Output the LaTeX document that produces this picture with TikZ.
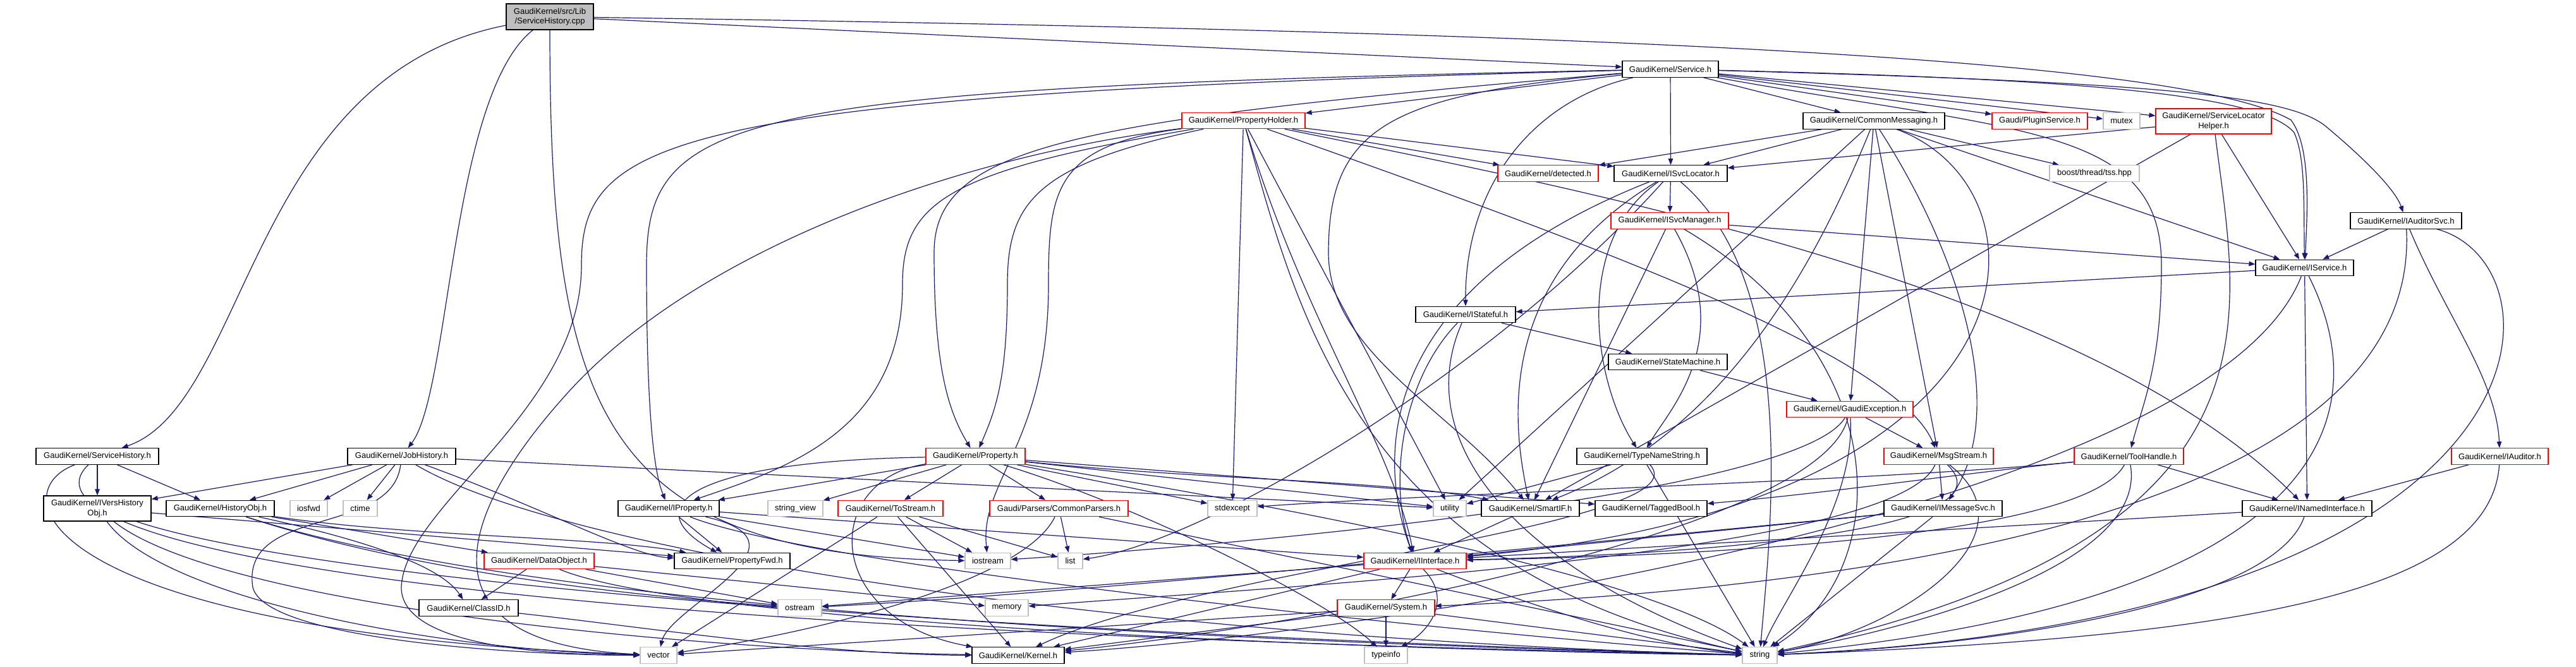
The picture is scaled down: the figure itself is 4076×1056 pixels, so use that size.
\documentclass[tikz,border=0pt]{standalone}
\usepackage{xcolor}
\usepackage{fontspec}
\setmainfont{Liberation Sans}
\usepackage{tikz}
\usetikzlibrary{arrows.meta}
\definecolor{edgeblue}{RGB}{25, 25, 112}
\definecolor{truncred}{RGB}{255, 0, 0}
\definecolor{sysgray}{RGB}{191, 191, 191}
\pgfdeclarelayer{edges}
\pgfsetlayers{edges,main}

\begin{document}
\begin{tikzpicture}[x=1pt, y=1pt,
    file/.style={draw=black, line width=1.2pt, fill=white, inner xsep=4pt, inner ysep=0pt,
      minimum height=25.5pt, align=center, font=\fontsize{13}{15.5}\selectfont},
    hdr/.style={file},
    trunc/.style={file, draw=truncred},
    sys/.style={file, draw=sysgray},
    rootfile/.style={file, fill=sysgray},
    dep/.style={draw=edgeblue, line width=1.2pt, -{Triangle[length=10pt, width=7.5pt]}}]

        % 文件 (Files)
        \node[rootfile, minimum width=138, minimum height=41] (root) at (870,-26.5) {GaudiKernel/src/Lib\\/ServiceHistory.cpp};
        \node[hdr, minimum width=152] (svc) at (2643,-109.5) {GaudiKernel/Service.h};
        \node[trunc, minimum width=195] (phold) at (1967.5,-191) {GaudiKernel/PropertyHolder.h};
        \node[hdr, minimum width=224] (cmsg) at (2965,-191.5) {GaudiKernel/CommonMessaging.h};
        \node[trunc, minimum width=151] (plug) at (3227.5,-191.5) {Gaudi/PluginService.h};
        \node[sys, minimum width=58] (mutex) at (3357,-191.5) {mutex};
        \node[trunc, minimum width=183, minimum height=40] (slh) at (3502.5,-192) {GaudiKernel/ServiceLocator\\Helper.h};
        \node[trunc, minimum width=159] (detected) at (2449.5,-274.5) {GaudiKernel/detected.h};
        \node[hdr, minimum width=179] (isl) at (2643.5,-274.5) {GaudiKernel/ISvcLocator.h};
        \node[sys, minimum width=142] (tss) at (3314,-274.5) {boost/thread/tss.hpp};
        \node[trunc, minimum width=186] (ism) at (2642,-349.5) {GaudiKernel/ISvcManager.h};
        \node[hdr, minimum width=176] (iaudsvc) at (3807,-349.5) {GaudiKernel/IAuditorSvc.h};
        \node[hdr, minimum width=155] (isvc) at (3646.5,-424) {GaudiKernel/IService.h};
        \node[hdr, minimum width=158] (istate) at (2319,-498) {GaudiKernel/IStateful.h};
        \node[hdr, minimum width=188] (sm) at (2639,-573) {GaudiKernel/StateMachine.h};
        \node[trunc, minimum width=200] (gexc) at (2927,-648) {GaudiKernel/GaudiException.h};
        \node[hdr, minimum width=194] (shist) at (154,-722.5) {GaudiKernel/ServiceHistory.h};
        \node[hdr, minimum width=171] (jhist) at (635.5,-722.5) {GaudiKernel/JobHistory.h};
        \node[trunc, minimum width=157] (prop) at (1543.5,-722.5) {GaudiKernel/Property.h};
        \node[hdr, minimum width=206] (tns) at (2598,-722.5) {GaudiKernel/TypeNameString.h};
        \node[trunc, minimum width=173] (msgs) at (3067.5,-722.5) {GaudiKernel/MsgStream.h};
        \node[trunc, minimum width=173] (toolh) at (3368.5,-722.5) {GaudiKernel/ToolHandle.h};
        \node[trunc, minimum width=153] (iaud) at (3955.5,-722.5) {GaudiKernel/IAuditor.h};
        \node[hdr, minimum width=170, minimum height=40] (ivho) at (154,-805) {GaudiKernel/IVersHistory\\Obj.h};
        \node[hdr, minimum width=171] (hobj) at (348.5,-805) {GaudiKernel/HistoryObj.h};
        \node[sys, minimum width=59] (iosfwd) at (488.5,-805) {iosfwd};
        \node[sys, minimum width=54] (ctime) at (570,-805) {ctime};
        \node[hdr, minimum width=160] (iprop) at (1058,-805) {GaudiKernel/IProperty.h};
        \node[sys, minimum width=87] (sview) at (1258.5,-805) {string\_view};
        \node[trunc, minimum width=166] (tostr) at (1409,-805) {GaudiKernel/ToStream.h};
        \node[trunc, minimum width=219] (cparse) at (1675.5,-805) {Gaudi/Parsers/CommonParsers.h};
        \node[sys, minimum width=78] (stdexc) at (1950,-805) {stdexcept};
        \node[sys, minimum width=52] (utility) at (2294,-805) {utility};
        \node[hdr, minimum width=155] (smartif) at (2421.5,-805) {GaudiKernel/SmartIF.h};
        \node[hdr, minimum width=177] (tbool) at (2612.5,-805) {GaudiKernel/TaggedBool.h};
        \node[hdr, minimum width=187] (imsg) at (3074.5,-805) {GaudiKernel/IMessageSvc.h};
        \node[hdr, minimum width=205] (inamed) at (3650.5,-805) {GaudiKernel/INamedInterface.h};
        \node[trunc, minimum width=174] (dobj) at (853,-888) {GaudiKernel/DataObject.h};
        \node[hdr, minimum width=183] (pfwd) at (1158.5,-888) {GaudiKernel/PropertyFwd.h};
        \node[sys, minimum width=72] (iostream) at (1563,-888) {iostream};
        \node[sys, minimum width=39] (list) at (1693.5,-888) {list};
        \node[trunc, minimum width=162] (iif) at (2239,-888) {GaudiKernel/IInterface.h};
        \node[hdr, minimum width=157] (clid) at (741.5,-962.5) {GaudiKernel/ClassID.h};
        \node[sys, minimum width=69] (ostream) at (1265.5,-962.5) {ostream};
        \node[sys, minimum width=68] (memory) at (1593,-962.5) {memory};
        \node[trunc, minimum width=154] (system) at (2193,-962.5) {GaudiKernel/System.h};
        \node[sys, minimum width=58] (vector) at (1042,-1037.5) {vector};
        \node[hdr, minimum width=146] (kernel) at (1611,-1037.5) {GaudiKernel/Kernel.h};
        \node[sys, minimum width=68] (typeinfo) at (2193,-1037.5) {typeinfo};
        \node[sys, minimum width=55] (string) at (2784.5,-1037.5) {string};

        \begin{pgfonlayer}{edges}
        \path[fill=white, use as bounding box] (0,0) rectangle (4076,-1056);

        % 直线依赖 (Straight includes)
        \foreach \a/\b in {root/svc, svc/phold, svc/cmsg, svc/plug, svc/mutex, svc/slh, svc/isl,
            phold/detected, phold/isl, phold/stdexc, phold/utility,
            cmsg/detected, cmsg/isl, cmsg/tss, cmsg/isvc, cmsg/gexc, cmsg/msgs, cmsg/utility,
            slh/isl, slh/smartif, slh/isvc, isl/ism, ism/isvc, ism/smartif, iaudsvc/isvc,
            isvc/istate, isvc/inamed, istate/sm, sm/gexc, gexc/msgs,
            shist/ivho, shist/hobj, jhist/ivho, jhist/hobj, jhist/iosfwd, jhist/ctime, jhist/utility,
            ivho/pfwd, hobj/dobj, dobj/clid, dobj/ostream, dobj/memory,
            prop/iprop, prop/sview, prop/tostr, prop/cparse, prop/stdexc, prop/utility, prop/tbool,
            iprop/pfwd, iprop/iostream, iprop/iif, tostr/vector, tostr/kernel, tostr/iostream, tostr/list,
            cparse/list, cparse/string, smartif/iif, tns/utility, tns/string, msgs/imsg,
            toolh/inamed, iaud/inamed, imsg/iif, imsg/string, inamed/iif,
            iif/system, iif/ostream, iif/kernel, system/typeinfo, system/kernel, system/vector, system/string}
            \draw[dep] (\a) -- (\b);

        % ServiceHistory.cpp
        \draw[dep] (root) .. controls (393,-120) and (393,-640) .. (shist);
        \draw[dep] (root) .. controls (713,-150) and (713,-620) .. (jhist);
        \draw[dep] (root) .. controls (870,-650) and (950,-880) .. (iostream);
        \draw[dep] (root) .. controls (2500,-50) and (3450,-90) .. (3625,-190) .. controls (3655,-230) and (3652,-320) .. (isvc);

        % Service.h
        \draw[dep] (svc) .. controls (2420,-160) and (2318,-300) .. (istate);
        \draw[dep] (svc) .. controls (3400,-130) and (3620,-150) .. (3680,-200) .. controls (3740,-250) and (3790,-300) .. (iaudsvc);
        \draw[dep] (svc) .. controls (3300,-125) and (3580,-150) .. (3630,-210) .. controls (3648,-250) and (3645,-320) .. (isvc);
        \draw[dep] (svc) .. controls (3200,-210) and (3420,-200) .. (3420,-420) .. controls (3420,-580) and (3390,-640) .. (toolh);
        \draw[dep] (svc) .. controls (1150,-140) and (1023,-180) .. (1023,-420) .. controls (1023,-700) and (1040,-760) .. (iprop);
        \draw[dep] (svc) .. controls (1700,-190) and (1478,-230) .. (1478,-400) .. controls (1478,-580) and (1500,-650) .. (prop);
        \draw[dep] (svc) .. controls (2200,-150) and (2102,-200) .. (2102,-400) .. controls (2102,-560) and (2300,-650) .. (smartif);
        \draw[dep] (svc) .. controls (1050,-150) and (920,-220) .. (920,-420) .. controls (920,-650) and (640,-800) .. (635,-930) .. controls (635,-1020) and (850,-1037) .. (vector);

        % PropertyHolder.h
        \draw[dep] (phold) .. controls (1640,-260) and (1594,-320) .. (1594,-450) .. controls (1594,-600) and (1575,-650) .. (prop);
        \draw[dep] (phold) .. controls (1500,-270) and (1428,-320) .. (1428,-450) .. controls (1428,-680) and (1250,-740) .. (iprop);
        \draw[dep] (phold) .. controls (1500,-250) and (1100,-400) .. (900,-620) .. controls (700,-840) and (680,-1020) .. (vector);
        \draw[dep] (phold) .. controls (1670,-230) and (1659,-300) .. (1659,-450) .. controls (1659,-700) and (1550,-760) .. (iostream);
        \draw[dep] (phold) .. controls (2500,-380) and (3000,-560) .. (msgs);
        \draw[dep] (phold) .. controls (2053,-500) and (2150,-900) .. (string);
        \draw[dep] (phold) .. controls (2500,-300) and (3300,-450) .. (inamed);
        \draw[dep] (phold) .. controls (2060,-500) and (2200,-700) .. (iif);

        % CommonMessaging.h, ServiceLocatorHelper.h
        \draw[dep] (cmsg) .. controls (3100,-400) and (3180,-650) .. (imsg);
        \draw[dep] (cmsg) .. controls (2880,-400) and (2740,-680) .. (smartif);
        \draw[dep] (cmsg) .. controls (3260,-300) and (3250,-800) .. (iif);
        \draw[dep] (slh) .. controls (3540,-500) and (3640,-850) .. (string);

        % ISvcLocator.h, ISvcManager.h
        \draw[dep] (isl) .. controls (2490,-380) and (2520,-600) .. (tns);
        \draw[dep] (isl) .. controls (2350,-450) and (2400,-700) .. (smartif);
        \draw[dep] (isl) .. controls (2200,-450) and (2170,-700) .. (iif);
        \draw[dep] (isl) .. controls (2350,-600) and (1900,-860) .. (list);
        \draw[dep] (isl) .. controls (2850,-450) and (2800,-850) .. (string);
        \draw[dep] (ism) .. controls (2750,-540) and (2640,-650) .. (tns);
        \draw[dep] (ism) .. controls (3000,-560) and (3000,-900) .. (string);

        % IAuditorSvc.h, IService.h, IStateful.h
        \draw[dep] (iaudsvc) .. controls (3870,-500) and (3950,-600) .. (iaud);
        \draw[dep] (iaudsvc) .. controls (3830,-800) and (3000,-930) .. (system);
        \draw[dep] (iaudsvc) .. controls (4067,-420) and (4067,-980) .. (string);
        \draw[dep] (isvc) .. controls (3760,-650) and (3700,-950) .. (string);
        \draw[dep] (isvc) .. controls (3500,-800) and (2200,-1000) .. (kernel);
        \draw[dep] (istate) .. controls (2220,-600) and (2195,-760) .. (iif);
        \draw[dep] (istate) .. controls (2230,-700) and (2400,-900) .. (string);

        % GaudiException.h
        \draw[dep] (gexc) .. controls (2850,-780) and (2000,-860) .. (iostream);
        \draw[dep] (gexc) .. controls (2880,-850) and (2000,-1000) .. (kernel);
        \draw[dep] (gexc) .. controls (2936,-800) and (2820,-950) .. (string);

        % ServiceHistory.h, JobHistory.h
        \draw[dep] (shist) .. controls (0,-780) and (60,-1000) .. (vector);
        \draw[dep] (shist) .. controls (40,-830) and (400,-990) .. (string);
        \draw[dep] (jhist) .. controls (620,-850) and (380,-800) .. (400,-930) .. controls (420,-1010) and (800,-1037) .. (vector);
        \draw[dep] (jhist) .. controls (900,-880) and (1800,-1010) .. (string);
        \draw[dep] (jhist) .. controls (850,-800) and (1000,-880) .. (pfwd);

        % IVersHistoryObj.h, HistoryObj.h, DataObject.h, ClassID.h
        \draw[dep] (ivho) .. controls (260,-950) and (700,-1030) .. (vector);
        \draw[dep] (ivho) .. controls (350,-960) and (1100,-1030) .. (kernel);
        \draw[dep] (ivho) .. controls (500,-920) and (1500,-1000) .. (string);
        \draw[dep] (hobj) .. controls (600,-860) and (700,-900) .. (clid);
        \draw[dep] (hobj) .. controls (650,-850) and (950,-850) .. (pfwd);
        \draw[dep] (hobj) .. controls (700,-920) and (1100,-950) .. (ostream);
        \draw[dep] (hobj) .. controls (800,-950) and (1700,-1010) .. (string);
        \draw[dep] (dobj) .. controls (1100,-990) and (2200,-1030) .. (string);
        \draw[dep] (clid) .. controls (1000,-990) and (1300,-1037) .. (kernel);

        % Property.h, IProperty.h, CommonParsers.h, TypeNameString.h
        \draw[dep] (prop) .. controls (1100,-730) and (1000,-800) .. (pfwd);
        \draw[dep] (prop) .. controls (1900,-760) and (2200,-760) .. (smartif);
        \draw[dep] (prop) .. controls (1300,-760) and (1300,-980) .. (kernel);
        \draw[dep] (prop) .. controls (1900,-780) and (2600,-900) .. (string);
        \draw[dep] (prop) .. controls (1800,-800) and (2100,-950) .. (typeinfo);
        \draw[dep] (iprop) .. controls (1300,-860) and (1060,-960) .. (vector);
        \draw[dep] (iprop) .. controls (1300,-900) and (2300,-1000) .. (string);
        \draw[dep] (cparse) .. controls (1620,-920) and (1300,-1000) .. (vector);
        \draw[dep] (tns) .. controls (2700,-830) and (1900,-900) .. (kernel);

        % MsgStream.h, ToolHandle.h, IAuditor.h, IMessageSvc.h, INamedInterface.h
        \draw[dep] (msgs) .. controls (3200,-850) and (2600,-880) .. (iif);
        \draw[dep] (msgs) .. controls (3230,-850) and (3000,-1000) .. (string);
        \draw[dep] (msgs) .. controls (3000,-880) and (2000,-930) .. (memory);
        \draw[dep] (toolh) .. controls (3000,-760) and (2300,-780) .. (stdexc);
        \draw[dep] (toolh) .. controls (3100,-750) and (2900,-780) .. (tbool);
        \draw[dep] (toolh) .. controls (3300,-850) and (2700,-880) .. (iif);
        \draw[dep] (toolh) .. controls (3400,-900) and (3000,-1000) .. (string);
        \draw[dep] (iaud) .. controls (3940,-950) and (3500,-1010) .. (string);
        \draw[dep] (imsg) .. controls (2500,-860) and (1700,-940) .. (ostream);
        \draw[dep] (inamed) .. controls (3600,-950) and (3200,-1020) .. (string);

        % IInterface.h
        \draw[dep] (iif) .. controls (2300,-950) and (2260,-1000) .. (typeinfo);
        \draw[dep] (iif) .. controls (2400,-950) and (2600,-1020) .. (string);
        \end{pgfonlayer}
    \end{tikzpicture}
\end{document}
